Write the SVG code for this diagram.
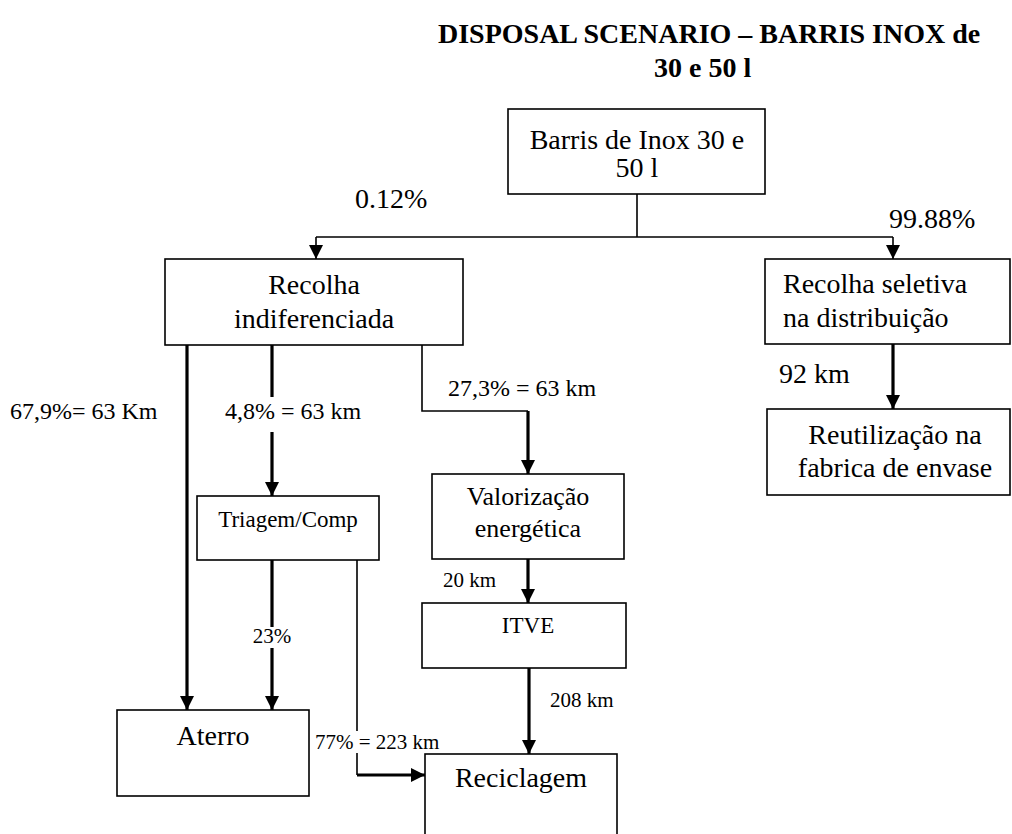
<svg xmlns="http://www.w3.org/2000/svg" width="1012" height="834" viewBox="0 0 1012 834">
  <style>
    .box { fill: #fff; stroke: #000; stroke-width: 1.6; }
    .t { font-family: "Liberation Serif", Tinos, "Times New Roman", "DejaVu Serif", serif; fill: #000; }
    .c { text-anchor: middle; }
    .big { font-size: 28px; }
    .mid { font-size: 24px; }
    .sm { font-size: 21px; }
    .thin { fill: none; stroke: #000; stroke-width: 1.6; }
    .thick { fill: none; stroke: #000; stroke-width: 3.2; }
  </style>
  <defs>
    <marker id="arrow" viewBox="0 0 14 14" refX="14" refY="7" markerWidth="14" markerHeight="14" markerUnits="userSpaceOnUse" orient="auto">
      <path d="M0,0 L14,7 L0,14 z" fill="#000"/>
    </marker>
  </defs>
  <rect width="1012" height="834" fill="#fff"/>

  <!-- title -->
  <g id="title" class="t" font-weight="bold" font-size="28">
    <text x="438" y="43">DISPOSAL SCENARIO – BARRIS INOX de</text>
    <text x="654" y="77">30 e 50 l</text>
  </g>

  <!-- connectors -->
  <g id="connectors">
    <path class="thin" d="M637,194 V237 M316,237 H893"/>
    <path class="thin" d="M316,237 V259" marker-end="url(#arrow)"/>
    <path class="thin" d="M893,237 V259" marker-end="url(#arrow)"/>
    <path class="thick" d="M187,345 V710" marker-end="url(#arrow)"/>
    <path class="thick" d="M272,345 V397 M272,432 V496" marker-end="url(#arrow)"/>
    <path class="thin" d="M422,345 V411 H528"/>
    <path class="thick" d="M528,411 V474" marker-end="url(#arrow)"/>
    <path class="thick" d="M272,560 V627 M272,648 V710" marker-end="url(#arrow)"/>
    <path class="thin" d="M357,560 V731 M357,753 V775"/>
    <path class="thick" d="M357,775 H425" marker-end="url(#arrow)"/>
    <path class="thick" d="M528,559 V603" marker-end="url(#arrow)"/>
    <path class="thick" d="M529,668 V754" marker-end="url(#arrow)"/>
    <path class="thick" d="M893,344 V409" marker-end="url(#arrow)"/>
  </g>

  <!-- connector labels -->
  <g id="labels" class="t">
    <text class="big" x="355" y="208">0.12%</text>
    <text class="big" x="889" y="228">99.88%</text>
    <text class="mid" x="10" y="419">67,9%= 63 Km</text>
    <text class="mid" x="225" y="419">4,8% = 63 km</text>
    <text class="mid" x="448" y="396">27,3% = 63 km</text>
    <text class="sm c" x="272" y="643">23%</text>
    <text class="sm" x="315" y="749">77% = 223 km</text>
    <text class="sm" x="443" y="587">20 km</text>
    <text class="sm" x="550" y="707">208 km</text>
    <text class="big" x="779" y="383">92 km</text>
  </g>

  <g id="barris">
    <rect class="box" x="508" y="109" width="257" height="85"/>
    <text class="t big c" x="637" y="149">Barris de Inox 30 e</text>
    <text class="t big c" x="637" y="177">50 l</text>
  </g>

  <g id="recolha-indiferenciada">
    <rect class="box" x="165" y="259" width="298" height="86"/>
    <text class="t big c" x="314" y="294">Recolha</text>
    <text class="t big c" x="314" y="328">indiferenciada</text>
  </g>

  <g id="recolha-seletiva">
    <rect class="box" x="765" y="259" width="245" height="85"/>
    <text class="t big" x="783" y="293">Recolha seletiva</text>
    <text class="t big" x="783" y="327">na distribuição</text>
  </g>

  <g id="reutilizacao">
    <rect class="box" x="767" y="409" width="243" height="86"/>
    <text class="t big c" x="895" y="444">Reutilização na</text>
    <text class="t big c" x="895" y="477">fabrica de envase</text>
  </g>

  <g id="triagem">
    <rect class="box" x="197" y="496" width="182" height="64"/>
    <text class="t c" font-size="23" x="288" y="527">Triagem/Comp</text>
  </g>

  <g id="valorizacao">
    <rect class="box" x="432" y="474" width="192" height="85"/>
    <text class="t c" font-size="26" x="528" y="505">Valorização</text>
    <text class="t c" font-size="26" x="528" y="537">energética</text>
  </g>

  <g id="itve">
    <rect class="box" x="422" y="603" width="204" height="65"/>
    <text class="t c" font-size="23" x="528" y="633">ITVE</text>
  </g>

  <g id="aterro">
    <rect class="box" x="117" y="710" width="192" height="86"/>
    <text class="t big c" x="213" y="745">Aterro</text>
  </g>

  <g id="reciclagem">
    <rect class="box" x="425" y="754" width="192" height="100"/>
    <text class="t big c" x="521" y="787">Reciclagem</text>
  </g>
</svg>
